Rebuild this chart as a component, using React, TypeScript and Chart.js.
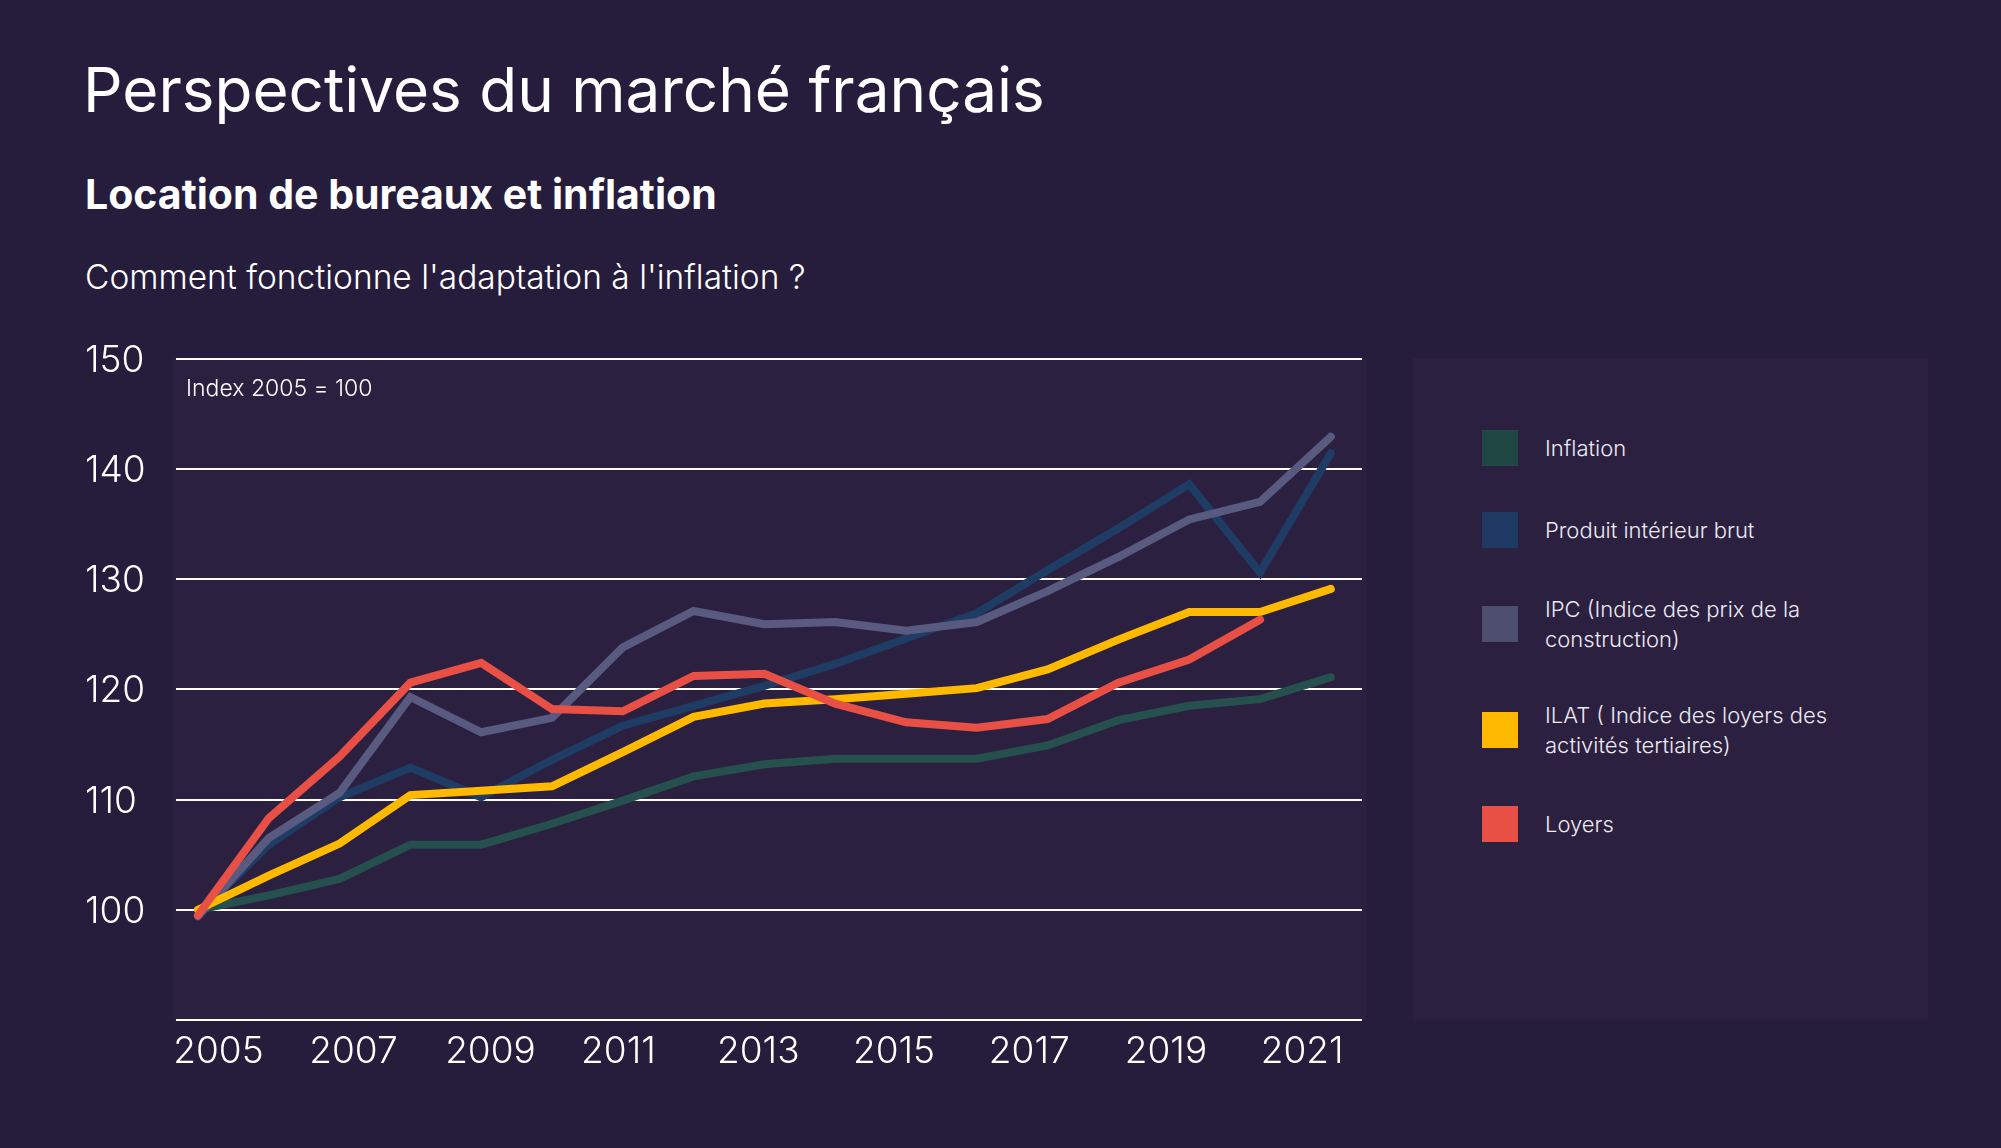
import React, { useEffect, useRef } from "react";
import { Chart, registerables } from "chart.js";

Chart.register(...registerables);

const years = [2005, 2006, 2007, 2008, 2009, 2010, 2011, 2012, 2013, 2014, 2015, 2016, 2017, 2018, 2019, 2020, 2021];
const xTickYears = [2005, 2007, 2009, 2011, 2013, 2015, 2017, 2019, 2021];
const yTicks = [90, 100, 110, 120, 130, 140, 150];

const seriesNames = [
  "Inflation",
  "Produit intérieur brut",
  "IPC (Indice des prix de la construction)",
  "ILAT ( Indice des loyers des activités tertiaires)",
  "Loyers",
];
const seriesColors = ["#25504d", "#1f3c64", "#585a80", "#ffba00", "#e84f45"];
const legendColors = ["#214744", "#1f3a62", "#4d4d6e", "#ffba00", "#e84f45"];

const inflation = [100, 101.3, 102.8, 105.9, 105.9, 107.8, 109.9, 112.1, 113.2, 113.7, 113.7, 113.7, 114.9, 117.2, 118.5, 119.1, 121.1];
const pib = [99.6, 105.9, 110.2, 112.9, 110.2, 113.6, 116.7, 118.5, 120.3, 122.3, 124.6, 126.9, 130.8, 134.6, 138.6, 130.6, 141.4];
const ipc = [99.4, 106.5, 110.6, 119.3, 116.1, 117.4, 123.8, 127.1, 125.9, 126.1, 125.3, 126.1, 128.9, 132.0, 135.4, 137.0, 142.9];
const ilat = [100, 103.1, 106.0, 110.4, 110.8, 111.2, 114.3, 117.5, 118.7, 119.1, 119.6, 120.1, 121.8, 124.5, 127.0, 127.0, 129.1];
const loyers = [99.5, 108.3, 113.9, 120.6, 122.4, 118.2, 118.0, 121.2, 121.4, 118.7, 117.0, 116.5, 117.3, 120.6, 122.7, 126.3, null];

const seriesValues = [inflation, pib, ipc, ilat, loyers];
const drawOrder = [4, 3, 2, 1, 0];

const BG = "#261c3c";
const PANEL = "#2b2040";
const FONT = "Inter, 'Noto Sans', sans-serif";

const panelPlugin = {
  id: "panelBg",
  beforeDraw(chart: any) {
    const { ctx, chartArea: a } = chart;
    ctx.save();
    ctx.fillStyle = PANEL;
    ctx.fillRect(a.left - 3, a.top, a.right - a.left + 7, a.bottom - a.top);
    ctx.restore();
  },
  beforeDatasetsDraw(chart: any) {
    const { ctx, chartArea: a } = chart;
    ctx.save();
    ctx.fillStyle = "#ffffff";
    ctx.font = `300 23px ${FONT}`;
    ctx.textAlign = "left";
    ctx.textBaseline = "alphabetic";
    ctx.fillText("Index 2005 = 100", a.left + 10, a.top + 37);
    ctx.restore();
  },
};

function LineChart() {
  const ref = useRef<HTMLCanvasElement | null>(null);
  useEffect(() => {
    if (!ref.current) return;
    const chart = new Chart(ref.current, {
      type: "line",
      data: {
        datasets: seriesNames.map((name, i) => ({
          label: name,
          data: years.map((yr, k) => ({ x: yr, y: seriesValues[i][k] })),
          borderColor: seriesColors[i],
          backgroundColor: seriesColors[i],
          borderWidth: 8,
          pointRadius: 0,
          tension: 0,
          fill: false,
          spanGaps: false,
          order: drawOrder[i],
          borderCapStyle: "round",
          borderJoinStyle: "miter",
          xAxisID: "x",
          yAxisID: "y",
        })),
      },
      options: {
        animation: false,
        responsive: false,
        maintainAspectRatio: false,
        devicePixelRatio: 1,
        layout: { padding: { left: 85, right: 38, top: 58.5, bottom: 20 } },
        plugins: { legend: { display: false }, tooltip: { enabled: false } },
        scales: {
          x: { type: "linear", display: false, min: 2004.69, max: 2021.44 },
          x2: {
            type: "linear",
            position: "bottom",
            min: 2005.04,
            max: 2022.49,
            grid: { display: false, drawTicks: false },
            border: { display: false },
            afterBuildTicks: (s: any) => {
              s.ticks = xTickYears.map((v) => ({ value: v }));
            },
            afterFit: (s: any) => {
              s.height = 60;
            },
            ticks: {
              align: "start",
              color: "#ffffff",
              font: { family: FONT, size: 37, weight: "300" },
              padding: 10,
              autoSkip: false,
              maxRotation: 0,
              callback: (v: any) => String(v),
            },
          },
          y: {
            type: "linear",
            min: 90,
            max: 150,
            afterBuildTicks: (s: any) => {
              s.ticks = yTicks.map((v) => ({ value: v }));
            },
            afterFit: (s: any) => {
              s.width = 91;
            },
            grid: { color: "#ffffff", lineWidth: 2, drawTicks: false },
            border: { display: false },
            ticks: {
              crossAlign: "far",
              color: "#ffffff",
              labelOffset: 2,
              font: { family: FONT, size: 37, weight: "300" },
              callback: (v: any) => (v === 90 ? "" : String(v)),
            },
          },
        },
      },
      plugins: [panelPlugin],
    } as any);
    return () => chart.destroy();
  }, []);
  return (
    <canvas
      ref={ref}
      width={1400}
      height={800}
      style={{ position: "absolute", left: 0, top: 300, width: 1400, height: 800 }}
    />
  );
}

export default function App() {
  const legendOrder = [0, 1, 2, 3, 4];
  return (
    <div
      style={{
        position: "fixed",
        left: 0,
        top: 0,
        width: 2001,
        height: 1148,
        background: BG,
        overflow: "hidden",
        fontFamily: FONT,
        color: "#ffffff",
      }}
    >
      <div style={{ position: "absolute", left: 83, top: 59, fontSize: 62, lineHeight: "62px", fontWeight: 400, whiteSpace: "nowrap" }}>
        Perspectives du marché français
      </div>
      <div style={{ position: "absolute", left: 85, top: 174, fontSize: 41, lineHeight: "41px", fontWeight: 700, whiteSpace: "nowrap" }}>
        Location de bureaux et inflation
      </div>
      <div style={{ position: "absolute", left: 85, top: 261, fontSize: 33.5, lineHeight: "33.5px", fontWeight: 300, whiteSpace: "nowrap" }}>
        Comment fonctionne l'adaptation à l'inflation ?
      </div>
      <LineChart />
      <div
        style={{
          position: "absolute",
          left: 1413,
          top: 358,
          width: 515,
          height: 662,
          background: PANEL,
          boxSizing: "border-box",
          paddingTop: 72,
          paddingLeft: 69,
          display: "flex",
          flexDirection: "column",
          gap: 46,
        }}
      >
        {legendOrder.map((i) => (
          <div key={i} style={{ display: "flex", alignItems: "center" }}>
            <div style={{ width: 36, height: 36, background: legendColors[i], flex: "none" }} />
            <div style={{ marginLeft: 27, width: 300, fontSize: 22, lineHeight: "30px", fontWeight: 300, color: "#ecebf2" }}>
              {seriesNames[i]}
            </div>
          </div>
        ))}
      </div>
    </div>
  );
}
